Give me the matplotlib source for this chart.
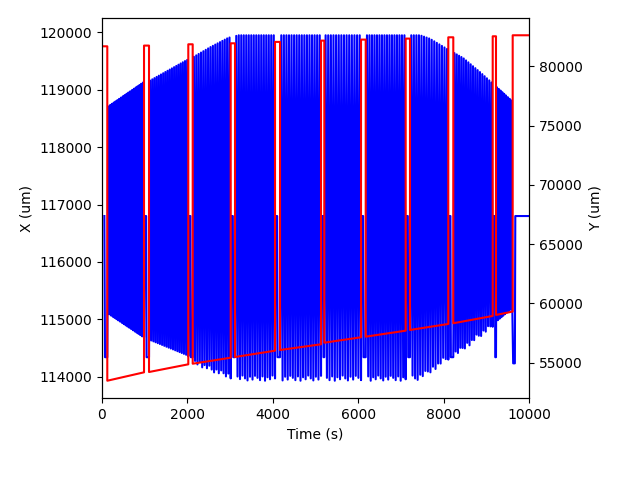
import numpy as np
import matplotlib
matplotlib.use("Agg")
import matplotlib.pyplot as plt

# ---- data ----
# scan segments (time in s)
seg_start = [124, 1101, 2124, 3115, 4169, 5206, 6176, 7213, 8227, 9227]
seg_end = [984, 2021, 3014, 4052, 5129, 6066, 7112, 8110, 9150, 9609]
cycles = [20, 18, 16, 16, 16, 14, 16, 15, 17, 9]

# Y (red) ramp values at segment start/end, and pulse tops before each segment
red_start = [53480, 54215, 54916, 55481, 56073, 56689, 57196, 57762, 58328, 59029]
red_end = [54189, 54865, 55422, 56014, 56554, 57145, 57703, 58269, 58944, 59307]
pulse_top = [81690, 81750, 81860, 81943, 82061, 82170, 82255, 82340, 82450, 82535]
final_top = 82620
final_rise = 9618

# X (blue) envelope knots: upper and lower turning points
upper_t = [124, 968, 1124, 1983, 2138, 2529, 2958, 3200, 7450, 7680, 8070, 8460, 8850, 9240, 9609]
upper_v = [118700, 119130, 119160, 119517, 119570, 119740, 119906, 119950, 119950, 119890,
           119716, 119553, 119310, 119050, 118800]
lower_t = [124, 968, 1124, 1983, 2138, 2529, 2958, 3250, 7370, 7700, 7993, 8384, 8775, 9087, 9555, 9609]
lower_v = [115110, 114690, 114640, 114378, 114290, 114146, 114030, 113980, 113980, 114120,
           114291, 114465, 114697, 114871, 115162, 115190]
lower_jitter = [0, -40, 25, -50, 10, -25, 40, -10, -45, 20, -30, 35]

x_center = 116800
x_park = 114340
x_final_dip = 114233

# ---- build blue (X) trace ----
bt = [55, 70, seg_start[0]]
bv = [x_center, x_park, x_park]
jit_i = 0
for i, (ts, te, n) in enumerate(zip(seg_start, seg_end, cycles)):
    h = (te - ts) / (2 * n)
    for k in range(1, 2 * n + 1):
        tk = ts + k * h
        if k % 2 == 1:
            val = np.interp(tk, upper_t, upper_v)
        else:
            val = np.interp(tk, lower_t, lower_v)
            if 2 <= i <= 8:
                val += lower_jitter[jit_i % len(lower_jitter)]
                jit_i += 1
        bt.append(tk)
        bv.append(val)
    if i < len(seg_start) - 1:
        bt += [te + 15, te + 50, te + 60, seg_start[i + 1]]
        bv += [x_center, x_center, x_park, x_park]
    else:
        bt += [te + 20, te + 60, te + 70, 10000]
        bv += [x_final_dip, x_final_dip, x_center, x_center]

# ---- build red (Y) trace ----
rt = [0]
rv = [pulse_top[0]]
for i, (ts, te) in enumerate(zip(seg_start, seg_end)):
    rt += [ts, ts, te]
    rv += [pulse_top[i], red_start[i], red_end[i]]
    if i < len(seg_start) - 1:
        rt += [te]
        rv += [pulse_top[i + 1]]
rt += [final_rise, final_rise, 10000]
rv += [red_end[-1], final_top, final_top]

fig = plt.figure(figsize=(6.4, 4.8), dpi=100)
ax = fig.add_axes([102 / 640, 1 - 398 / 480, (529 - 102) / 640, (398 - 18) / 480])
ax.plot(bt, bv, color="blue", lw=1.5)
ax.set_xlim(0, 10000)
ax.set_xlabel("Time (s)")
ax.set_ylabel("X (um)")
ax.ticklabel_format(useOffset=False, style="plain")

ax2 = ax.twinx()
ax2.plot(rt, rv, color="red", lw=1.5)
ax2.set_ylabel("Y (um)")
ax2.ticklabel_format(useOffset=False, style="plain")
ax2.set_xlim(0, 10000)

fig.savefig("out.png", dpi=100)
